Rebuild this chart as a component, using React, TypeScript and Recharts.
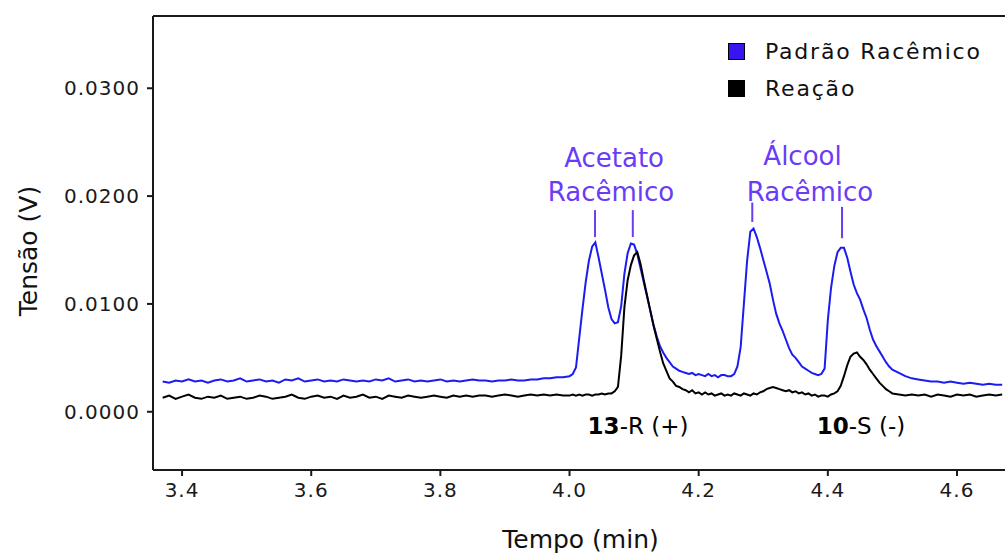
import React from "react";
import {
  LineChart,
  Line,
  XAxis,
  YAxis,
  Legend,
  ReferenceLine,
  ReferenceDot,
} from "recharts";

// tempo (min), three sampled stretches of the chromatogram
const tempoBase = [
  3.37, 3.38, 3.39, 3.4, 3.41, 3.42, 3.43, 3.44, 3.45, 3.46,
  3.47, 3.48, 3.49, 3.5, 3.51, 3.52, 3.53, 3.54, 3.55, 3.56,
  3.57, 3.58, 3.59, 3.6, 3.61, 3.62, 3.63, 3.64, 3.65, 3.66,
  3.67, 3.68, 3.69, 3.7, 3.71, 3.72, 3.73, 3.74, 3.75, 3.76,
  3.77, 3.78, 3.79, 3.8, 3.81, 3.82, 3.83, 3.84, 3.85, 3.86,
  3.87, 3.88, 3.89, 3.9, 3.91, 3.92, 3.93, 3.94, 3.95, 3.96,
  3.97, 3.98, 3.99,
];
const tempoPicos = [
  4.0, 4.005, 4.01, 4.015, 4.02, 4.025, 4.03, 4.035, 4.04, 4.045,
  4.05, 4.055, 4.06, 4.065, 4.07, 4.075, 4.08, 4.085, 4.09, 4.095,
  4.1, 4.105, 4.11, 4.115, 4.12, 4.125, 4.13, 4.135, 4.14, 4.145,
  4.15, 4.155, 4.16, 4.165, 4.17, 4.175, 4.18, 4.185, 4.19, 4.195,
  4.2, 4.205, 4.21, 4.215, 4.22, 4.225, 4.23, 4.235, 4.24, 4.245,
  4.25, 4.255, 4.26, 4.265, 4.27, 4.275, 4.28, 4.285, 4.29, 4.295,
  4.3, 4.305, 4.31, 4.315, 4.32, 4.325, 4.33, 4.335, 4.34, 4.345,
  4.35, 4.355, 4.36, 4.365, 4.37, 4.375, 4.38, 4.385, 4.39, 4.395,
  4.4, 4.405, 4.41, 4.415, 4.42, 4.425, 4.43, 4.435, 4.44, 4.445,
  4.45, 4.455, 4.46, 4.465, 4.47, 4.475, 4.48, 4.485, 4.49, 4.495,
  4.5,
];
const tempoCauda = [
  4.51, 4.52, 4.53, 4.54, 4.55, 4.56, 4.57, 4.58, 4.59, 4.6,
  4.61, 4.62, 4.63, 4.64, 4.65, 4.66, 4.67,
];

// Padrão Racêmico (V)
const padraoBase = [
  0.0028, 0.0027, 0.0029, 0.0028, 0.003, 0.0028, 0.0029, 0.0027, 0.0029, 0.003,
  0.0028, 0.0029, 0.0031, 0.0028, 0.0029, 0.003, 0.0028, 0.0029, 0.0027, 0.003,
  0.0029, 0.0031, 0.0028, 0.0029, 0.003, 0.0028, 0.0029, 0.0028, 0.003, 0.0029,
  0.0028, 0.0029, 0.0028, 0.003, 0.0029, 0.0031, 0.0028, 0.0029, 0.003, 0.0028,
  0.0029, 0.0028, 0.0029, 0.003, 0.0028, 0.0029, 0.0028, 0.0029, 0.003, 0.0029,
  0.0029, 0.0028, 0.0029, 0.0029, 0.003, 0.0029, 0.0029, 0.003, 0.003, 0.0031,
  0.0031, 0.0032, 0.0032,
];
const padraoPicos = [
  0.0033, 0.0035, 0.0041, 0.0068, 0.0095, 0.012, 0.014, 0.0153, 0.0157, 0.0143,
  0.0128, 0.0113, 0.0097, 0.0086, 0.0082, 0.0083, 0.0098, 0.0128, 0.0147, 0.0156,
  0.0155, 0.0146, 0.0133, 0.012, 0.0107, 0.0094, 0.0081, 0.007, 0.0061, 0.0055,
  0.005, 0.0046, 0.0042, 0.004, 0.0038, 0.0037, 0.0036, 0.0035, 0.0036, 0.0034,
  0.0035, 0.0034, 0.0033, 0.0035, 0.0033, 0.0034, 0.0032, 0.0034, 0.0034, 0.0033,
  0.0033, 0.0035, 0.0042, 0.006, 0.01, 0.014, 0.0167, 0.017, 0.0162, 0.0152,
  0.0141, 0.013, 0.0119, 0.0104, 0.0091, 0.0082, 0.0075, 0.0067, 0.0059, 0.0053,
  0.005, 0.0046, 0.0042, 0.004, 0.0038, 0.0036, 0.0035, 0.0034, 0.0035, 0.004,
  0.0085, 0.0115, 0.0135, 0.0148, 0.0152, 0.0152, 0.0143, 0.013, 0.0118, 0.011,
  0.0104, 0.0095, 0.0087, 0.0076, 0.0067, 0.0061, 0.0056, 0.0051, 0.0046, 0.0042,
  0.0039,
];
const padraoCauda = [
  0.0036, 0.0033, 0.0031, 0.003, 0.0029, 0.0028, 0.0028, 0.0027, 0.0028, 0.0027,
  0.0026, 0.0027, 0.0026, 0.0025, 0.0026, 0.0025, 0.0025,
];

// Reação (V)
const reacaoBase = [
  0.0013, 0.0015, 0.0012, 0.0014, 0.0016, 0.0013, 0.0012, 0.0014, 0.0013, 0.0015,
  0.0012, 0.0013, 0.0014, 0.0012, 0.0013, 0.0015, 0.0014, 0.0012, 0.0013, 0.0014,
  0.0016, 0.0013, 0.0012, 0.0014, 0.0015, 0.0013, 0.0014, 0.0012, 0.0015, 0.0013,
  0.0014, 0.0016, 0.0013, 0.0014, 0.0012, 0.0015, 0.0014, 0.0013, 0.0015, 0.0014,
  0.0013, 0.0014, 0.0015, 0.0014, 0.0013, 0.0015, 0.0014, 0.0015, 0.0014, 0.0015,
  0.0015, 0.0014, 0.0015, 0.0016, 0.0015, 0.0014, 0.0015, 0.0016, 0.0015, 0.0016,
  0.0015, 0.0016, 0.0015,
];
const reacaoPicos = [
  0.0015, 0.0016, 0.0015, 0.0016, 0.0015, 0.0016, 0.0016, 0.0015, 0.0016, 0.0016,
  0.0017, 0.0016, 0.0017, 0.0017, 0.0019, 0.0023, 0.0052, 0.0097, 0.0122, 0.0136,
  0.0145, 0.0148, 0.0137, 0.0122, 0.0108, 0.0094, 0.008, 0.0068, 0.0056, 0.0045,
  0.0038, 0.0031, 0.0028, 0.0024, 0.0023, 0.0021, 0.002, 0.0018, 0.002, 0.0017,
  0.0018, 0.0016, 0.0018, 0.0016, 0.0017, 0.0015, 0.0016, 0.0017, 0.0015, 0.0016,
  0.0015, 0.0017, 0.0016, 0.0015, 0.0017, 0.0016, 0.0015, 0.0017, 0.0016, 0.0018,
  0.0019, 0.0021, 0.0022, 0.0023, 0.0022, 0.0021, 0.002, 0.0019, 0.002, 0.0018,
  0.0019, 0.0017, 0.0018, 0.0016, 0.0017, 0.0015, 0.0016, 0.0014, 0.0015, 0.0015,
  0.0014, 0.0016, 0.0017, 0.0019, 0.0024, 0.0033, 0.0043, 0.0051, 0.0054, 0.0055,
  0.0051, 0.0048, 0.0044, 0.0039, 0.0035, 0.0031, 0.0027, 0.0024, 0.0021, 0.0019,
  0.0017,
];
const reacaoCauda = [
  0.0016, 0.0015, 0.0016, 0.0015, 0.0016, 0.0014, 0.0016, 0.0015, 0.0014, 0.0016,
  0.0015, 0.0016, 0.0014, 0.0015, 0.0016, 0.0015, 0.0016,
];

const xTicks = [3.4, 3.6, 3.8, 4.0, 4.2, 4.4, 4.6];
const yTicks = [0, 0.01, 0.02, 0.03];
const xDomain = [3.355, 4.679];
const yDomain = [-0.0054, 0.0367];

const FONT = '"DejaVu Sans", Verdana, sans-serif';
const AZUL = "#1c1cf0";
const ROXO = "#6a3cf5";

const tempo = [...tempoBase, ...tempoPicos, ...tempoCauda];
const padrao = [...padraoBase, ...padraoPicos, ...padraoCauda];
const reacao = [...reacaoBase, ...reacaoPicos, ...reacaoCauda];
const data = tempo.map((t, i) => ({ t, padrao: padrao[i], reacao: reacao[i] }));

// peak markers (little vertical ticks under the purple labels)
const marcas = [
  { x: 4.0395, y1: 0.0187, y2: 0.0162 },
  { x: 4.098, y1: 0.0187, y2: 0.0162 },
  { x: 4.283, y1: 0.0194, y2: 0.0176 },
  { x: 4.422, y1: 0.019, y2: 0.0161 },
];

const rotulos = [
  { x: 4.069, y: 0.0227, texto: "Acetato" },
  { x: 4.0643, y: 0.0195, texto: "Racêmico" },
  { x: 4.3608, y: 0.0229, texto: "Álcool" },
  { x: 4.3724, y: 0.0195, texto: "Racêmico" },
];

const picosReacao = [
  { x: 4.1061, y: -0.0021, num: "13", resto: "-R (+)" },
  { x: 4.4514, y: -0.0021, num: "10", resto: "-S (-)" },
];

const legenda = [
  { nome: "Padrão Racêmico", cor: "#3a14f0" },
  { nome: "Reação", cor: "#000" },
];

function Legenda() {
  return (
    <div style={{ fontFamily: FONT, fontSize: 22, letterSpacing: 1.8, color: "#111" }}>
      {legenda.map((l) => (
        <div key={l.nome} style={{ display: "flex", alignItems: "center", height: 37 }}>
          <span
            style={{
              display: "inline-block",
              width: 15,
              height: 15,
              background: l.cor,
              border: "1px solid #000",
              marginRight: 20,
            }}
          />
          <span>{l.nome}</span>
        </div>
      ))}
    </div>
  );
}

const textoCentrado = (texto: string, cor: string, size: number) => (props: any) => {
  const vb = props.viewBox;
  return (
    <text
      x={vb.x + vb.width / 2}
      y={vb.y + vb.height / 2}
      textAnchor="middle"
      fontFamily={FONT}
      fontSize={size}
      fill={cor}
    >
      {texto}
    </text>
  );
};

const textoPico = (num: string, resto: string) => (props: any) => {
  const vb = props.viewBox;
  return (
    <text
      x={vb.x + vb.width / 2}
      y={vb.y + vb.height / 2}
      textAnchor="middle"
      fontFamily={FONT}
      fontSize={23}
      fill="#000"
    >
      <tspan fontWeight="bold">{num}</tspan>
      <tspan>{resto}</tspan>
    </text>
  );
};

const tituloY = (props: any) => {
  const vb = props.viewBox;
  const x = vb.x + 37;
  const y = vb.y + vb.height / 2 + 8;
  return (
    <text
      x={x}
      y={y}
      transform={`rotate(-90, ${x}, ${y})`}
      textAnchor="middle"
      fontFamily={FONT}
      fontSize={25}
      fill="#111"
    >
      Tensão (V)
    </text>
  );
};

export default function App() {
  const eixo = { stroke: "#1a1a1a", strokeWidth: 2 };
  const tick = { fontSize: 20, fontFamily: FONT, fill: "#1a1a1a", letterSpacing: 1 };
  return (
    <div
      style={{
        position: "fixed",
        left: 0,
        top: 0,
        width: 1005,
        height: 555,
        overflow: "hidden",
        background: "#fff",
      }}
    >
      <LineChart
        width={1020}
        height={555}
        data={data}
        margin={{ top: 16, right: 12, left: 0, bottom: 0 }}
      >
        <XAxis
          dataKey="t"
          type="number"
          domain={xDomain}
          allowDataOverflow
          ticks={xTicks}
          tickFormatter={(v: number) => v.toFixed(1)}
          height={85}
          tickSize={6}
          tickMargin={7}
          axisLine={eixo}
          tickLine={eixo}
          tick={tick}
          label={{
            value: "Tempo (min)",
            position: "insideBottom",
            offset: 7,
            fontSize: 25,
            fontFamily: FONT,
            fill: "#111",
          }}
        />
        <YAxis
          type="number"
          domain={yDomain}
          allowDataOverflow
          ticks={yTicks}
          tickFormatter={(v: number) => v.toFixed(4)}
          width={153}
          tickSize={6}
          tickMargin={7}
          axisLine={eixo}
          tickLine={eixo}
          tick={tick}
          label={{ content: tituloY }}
        />
        {/* top frame of the plot box */}
        <ReferenceLine y={yDomain[1]} stroke="#1a1a1a" strokeWidth={2} />
        <Legend
          layout="vertical"
          align="center"
          verticalAlign="middle"
          content={<Legenda />}
          wrapperStyle={{ top: 33, left: 728, width: "auto" }}
        />
        <Line
          type="linear"
          dataKey="padrao"
          name="Padrão Racêmico"
          stroke={AZUL}
          strokeWidth={2}
          dot={false}
          isAnimationActive={false}
        />
        <Line
          type="linear"
          dataKey="reacao"
          name="Reação"
          stroke="#000"
          strokeWidth={2}
          dot={false}
          isAnimationActive={false}
        />
        {marcas.map((m, i) => (
          <ReferenceLine
            key={"m" + i}
            segment={[
              { x: m.x, y: m.y1 },
              { x: m.x, y: m.y2 },
            ]}
            stroke={ROXO}
            strokeWidth={2}
          />
        ))}
        {rotulos.map((r, i) => (
          <ReferenceDot
            key={"r" + i}
            x={r.x}
            y={r.y}
            r={0}
            fill="none"
            stroke="none"
            label={textoCentrado(r.texto, ROXO, 26)}
          />
        ))}
        {picosReacao.map((p, i) => (
          <ReferenceDot
            key={"p" + i}
            x={p.x}
            y={p.y}
            r={0}
            fill="none"
            stroke="none"
            label={textoPico(p.num, p.resto)}
          />
        ))}
      </LineChart>
    </div>
  );
}
